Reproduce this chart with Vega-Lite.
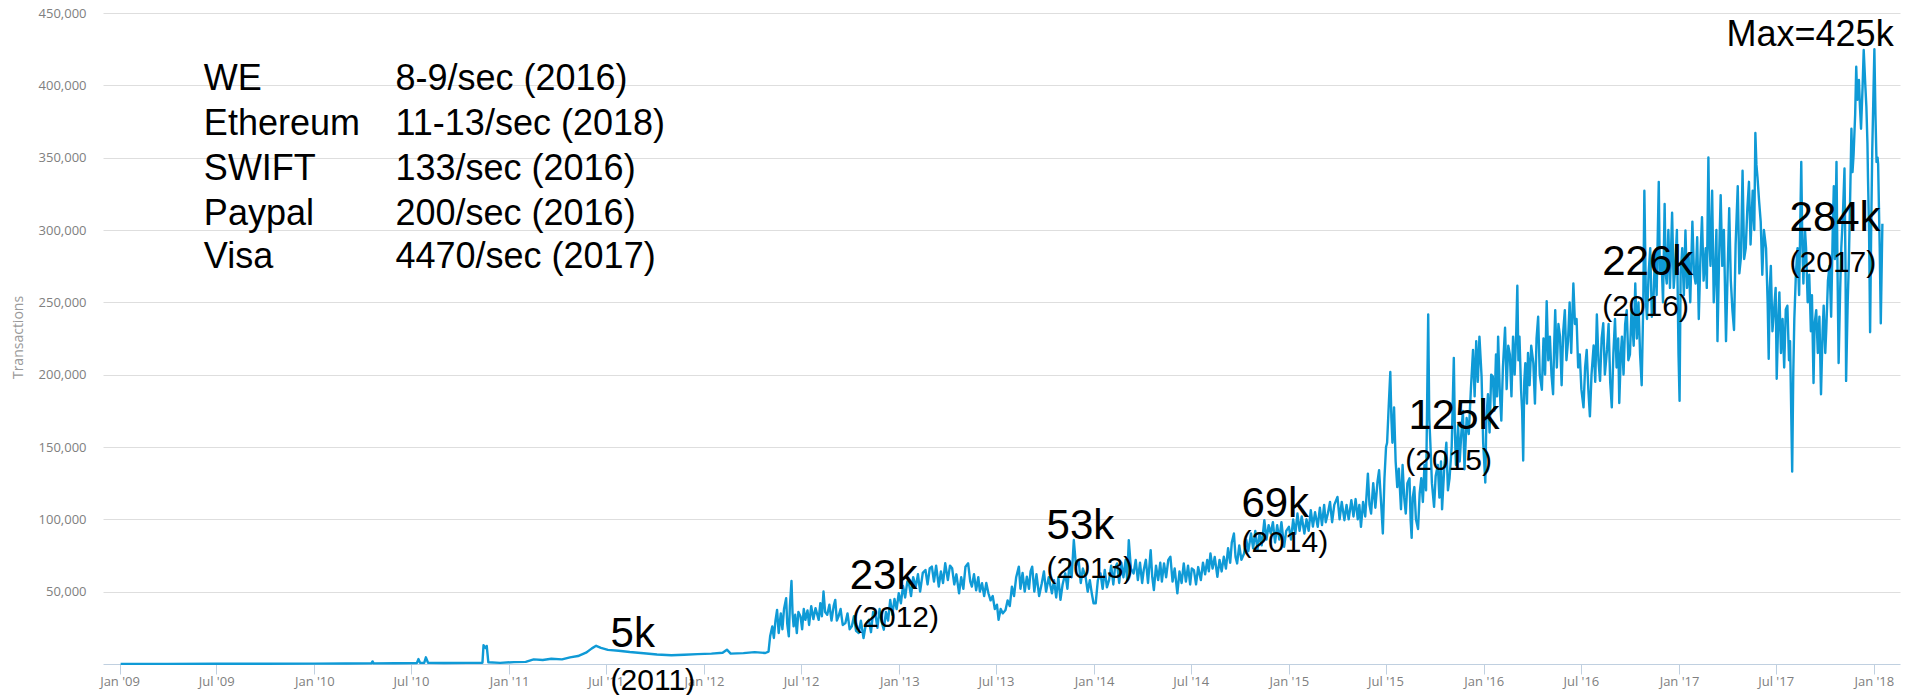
{
 "$schema": "https://vega.github.io/schema/vega-lite/v6.json",
 "width": 1797,
 "height": 651,
 "autosize": {"type": "none"},
 "padding": {"left": 103, "top": 13, "right": 7, "bottom": 31},
 "background": "white",
 "config": {"view": {"stroke": null}},
 "datasets": {
  "tx": [
   {"date":"2009-01-03","v":100},{"date":"2009-04-01","v":120},{"date":"2009-07-01","v":150},{"date":"2009-10-01","v":200},
   {"date":"2010-01-01","v":250},{"date":"2010-03-01","v":300},{"date":"2010-04-18","v":400},{"date":"2010-04-20","v":1800},
   {"date":"2010-04-22","v":400},{"date":"2010-06-01","v":500},{"date":"2010-07-12","v":600},{"date":"2010-07-15","v":3400},
   {"date":"2010-07-18","v":800},{"date":"2010-07-26","v":900},{"date":"2010-07-29","v":4600},{"date":"2010-08-02","v":900},
   {"date":"2010-09-01","v":700},{"date":"2010-10-15","v":800},{"date":"2010-11-12","v":900},{"date":"2010-11-14","v":13000},
   {"date":"2010-11-18","v":11000},{"date":"2010-11-20","v":12500},{"date":"2010-11-23","v":1200},{"date":"2010-12-15","v":800},
   {"date":"2011-01-10","v":1300},{"date":"2011-02-01","v":1500},{"date":"2011-02-16","v":3200},{"date":"2011-03-05","v":2800},
   {"date":"2011-03-21","v":3600},{"date":"2011-04-10","v":3200},{"date":"2011-04-25","v":4600},{"date":"2011-05-10","v":5500},
   {"date":"2011-05-25","v":7800},{"date":"2011-06-05","v":10800},{"date":"2011-06-13","v":12600},{"date":"2011-06-22","v":11200},
   {"date":"2011-07-05","v":9800},{"date":"2011-07-25","v":9200},{"date":"2011-08-15","v":8300},{"date":"2011-09-10","v":7400},
   {"date":"2011-10-05","v":6600},{"date":"2011-11-01","v":6000},{"date":"2011-11-25","v":6400},{"date":"2011-12-20","v":6800},
   {"date":"2012-01-15","v":7200},{"date":"2012-02-05","v":7800},{"date":"2012-02-13","v":9900},{"date":"2012-02-20","v":7200},
   {"date":"2012-03-15","v":7500},{"date":"2012-04-05","v":8200},{"date":"2012-04-25","v":7600},{"date":"2012-05-01","v":8500},
   {"date":"2012-05-04","v":19100},{"date":"2012-05-08","v":26000},{"date":"2012-05-11","v":18000},{"date":"2012-05-14","v":30000},
   {"date":"2012-05-17","v":37400},{"date":"2012-05-20","v":21400},{"date":"2012-05-24","v":35000},{"date":"2012-05-27","v":24000},
   {"date":"2012-05-30","v":38000},{"date":"2012-06-03","v":45500},{"date":"2012-06-05","v":28000},{"date":"2012-06-08","v":19100},
   {"date":"2012-06-10","v":40000},{"date":"2012-06-13","v":57400},{"date":"2012-06-15","v":35000},{"date":"2012-06-17","v":26000},
   {"date":"2012-06-20","v":34000},{"date":"2012-06-23","v":21400},{"date":"2012-06-26","v":36000},{"date":"2012-06-30","v":32800},
   {"date":"2012-07-03","v":24000},{"date":"2012-07-06","v":38000},{"date":"2012-07-09","v":30500},{"date":"2012-07-13","v":37000},
   {"date":"2012-07-16","v":27000},{"date":"2012-07-20","v":40000},{"date":"2012-07-24","v":31000},{"date":"2012-07-28","v":38600},
   {"date":"2012-08-03","v":30500},{"date":"2012-08-06","v":42000},{"date":"2012-08-09","v":33000},{"date":"2012-08-12","v":50100},
   {"date":"2012-08-15","v":36000},{"date":"2012-08-19","v":34000},{"date":"2012-08-23","v":41000},{"date":"2012-08-27","v":30000},
   {"date":"2012-08-31","v":40000},{"date":"2012-09-03","v":44300},{"date":"2012-09-06","v":30000},{"date":"2012-09-09","v":32800},
   {"date":"2012-09-13","v":38000},{"date":"2012-09-17","v":27000},{"date":"2012-09-22","v":28300},{"date":"2012-09-26","v":35000},
   {"date":"2012-09-30","v":24000},{"date":"2012-10-04","v":26000},{"date":"2012-10-08","v":33000},{"date":"2012-10-12","v":23000},
   {"date":"2012-10-17","v":21400},{"date":"2012-10-21","v":30000},{"date":"2012-10-26","v":17900},{"date":"2012-10-30","v":27000},
   {"date":"2012-11-05","v":30500},{"date":"2012-11-09","v":22000},{"date":"2012-11-13","v":36000},{"date":"2012-11-17","v":35100},
   {"date":"2012-11-21","v":25000},{"date":"2012-11-25","v":38000},{"date":"2012-11-29","v":29000},{"date":"2012-12-03","v":23700},
   {"date":"2012-12-07","v":36000},{"date":"2012-12-11","v":30000},{"date":"2012-12-15","v":44300},{"date":"2012-12-19","v":34000},
   {"date":"2012-12-23","v":45000},{"date":"2012-12-27","v":38000},{"date":"2012-12-31","v":48900},{"date":"2013-01-04","v":42000},
   {"date":"2013-01-08","v":54000},{"date":"2013-01-12","v":46000},{"date":"2013-01-16","v":57000},{"date":"2013-01-19","v":55800},
   {"date":"2013-01-23","v":47000},{"date":"2013-01-27","v":60000},{"date":"2013-02-01","v":53500},{"date":"2013-02-05","v":62000},
   {"date":"2013-02-09","v":50000},{"date":"2013-02-14","v":63000},{"date":"2013-02-19","v":65000},{"date":"2013-02-23","v":55000},
   {"date":"2013-02-27","v":66000},{"date":"2013-03-03","v":67300},{"date":"2013-03-07","v":57000},{"date":"2013-03-11","v":68000},
   {"date":"2013-03-16","v":53500},{"date":"2013-03-20","v":64000},{"date":"2013-03-24","v":56000},{"date":"2013-03-28","v":69600},
   {"date":"2013-04-02","v":58000},{"date":"2013-04-06","v":68000},{"date":"2013-04-10","v":66200},{"date":"2013-04-14","v":55000},
   {"date":"2013-04-18","v":62000},{"date":"2013-04-23","v":48900},{"date":"2013-04-27","v":60000},{"date":"2013-05-01","v":52000},
   {"date":"2013-05-05","v":67300},{"date":"2013-05-10","v":69600},{"date":"2013-05-14","v":57000},{"date":"2013-05-17","v":53500},
   {"date":"2013-05-21","v":62000},{"date":"2013-05-25","v":51000},{"date":"2013-05-29","v":60000},{"date":"2013-06-01","v":50000},
   {"date":"2013-06-05","v":55800},{"date":"2013-06-09","v":47000},{"date":"2013-06-13","v":56000},{"date":"2013-06-17","v":48900},
   {"date":"2013-06-21","v":44000},{"date":"2013-06-25","v":47000},{"date":"2013-06-29","v":38000},{"date":"2013-07-03","v":41000},
   {"date":"2013-07-06","v":30500},{"date":"2013-07-10","v":38000},{"date":"2013-07-14","v":35000},{"date":"2013-07-19","v":37400},
   {"date":"2013-07-23","v":44000},{"date":"2013-07-27","v":40000},{"date":"2013-07-31","v":53500},{"date":"2013-08-04","v":47000},
   {"date":"2013-08-08","v":60000},{"date":"2013-08-13","v":67300},{"date":"2013-08-16","v":52000},{"date":"2013-08-20","v":63000},
   {"date":"2013-08-24","v":50000},{"date":"2013-08-28","v":60400},{"date":"2013-09-01","v":52000},{"date":"2013-09-04","v":64000},
   {"date":"2013-09-07","v":67300},{"date":"2013-09-11","v":50000},{"date":"2013-09-15","v":62000},{"date":"2013-09-20","v":47000},
   {"date":"2013-09-25","v":55800},{"date":"2013-09-29","v":64000},{"date":"2013-10-03","v":50000},{"date":"2013-10-08","v":60000},
   {"date":"2013-10-14","v":48900},{"date":"2013-10-18","v":58000},{"date":"2013-10-22","v":46000},{"date":"2013-10-26","v":60000},
   {"date":"2013-10-30","v":44300},{"date":"2013-11-03","v":55000},{"date":"2013-11-08","v":62700},{"date":"2013-11-12","v":52000},
   {"date":"2013-11-16","v":70000},{"date":"2013-11-20","v":60000},{"date":"2013-11-24","v":85700},{"date":"2013-11-28","v":68000},
   {"date":"2013-12-03","v":71900},{"date":"2013-12-07","v":56000},{"date":"2013-12-11","v":66000},{"date":"2013-12-16","v":60400},
   {"date":"2013-12-20","v":50000},{"date":"2013-12-24","v":58000},{"date":"2013-12-28","v":48000},{"date":"2013-12-31","v":42000},
   {"date":"2014-01-04","v":41900},{"date":"2014-01-08","v":58000},{"date":"2014-01-13","v":62600},{"date":"2014-01-17","v":52000},
   {"date":"2014-01-21","v":65000},{"date":"2014-01-25","v":53000},{"date":"2014-01-29","v":58000},{"date":"2014-02-02","v":68000},
   {"date":"2014-02-06","v":55000},{"date":"2014-02-09","v":66000},{"date":"2014-02-13","v":69500},{"date":"2014-02-17","v":56000},
   {"date":"2014-02-21","v":70000},{"date":"2014-02-25","v":60000},{"date":"2014-03-01","v":72000},{"date":"2014-03-04","v":58000},
   {"date":"2014-03-07","v":85600},{"date":"2014-03-11","v":66000},{"date":"2014-03-16","v":62600},{"date":"2014-03-20","v":72000},
   {"date":"2014-03-24","v":58000},{"date":"2014-03-28","v":70000},{"date":"2014-04-01","v":56000},{"date":"2014-04-04","v":64900},
   {"date":"2014-04-08","v":72000},{"date":"2014-04-12","v":56000},{"date":"2014-04-17","v":78700},{"date":"2014-04-20","v":60000},
   {"date":"2014-04-23","v":51100},{"date":"2014-04-27","v":68000},{"date":"2014-05-01","v":58000},{"date":"2014-05-05","v":70000},
   {"date":"2014-05-08","v":57000},{"date":"2014-05-12","v":69500},{"date":"2014-05-16","v":60000},{"date":"2014-05-20","v":72000},
   {"date":"2014-05-24","v":74100},{"date":"2014-05-28","v":57000},{"date":"2014-06-01","v":66000},{"date":"2014-06-06","v":48800},
   {"date":"2014-06-10","v":64000},{"date":"2014-06-14","v":56000},{"date":"2014-06-18","v":69500},{"date":"2014-06-22","v":57000},
   {"date":"2014-06-26","v":68000},{"date":"2014-06-30","v":55000},{"date":"2014-07-03","v":66000},{"date":"2014-07-07","v":64900},
   {"date":"2014-07-11","v":55000},{"date":"2014-07-15","v":67000},{"date":"2014-07-20","v":58000},{"date":"2014-07-24","v":70000},
   {"date":"2014-07-28","v":62000},{"date":"2014-08-01","v":72000},{"date":"2014-08-04","v":64000},{"date":"2014-08-07","v":76400},
   {"date":"2014-08-11","v":66000},{"date":"2014-08-15","v":74000},{"date":"2014-08-20","v":60300},{"date":"2014-08-24","v":72000},
   {"date":"2014-08-28","v":64000},{"date":"2014-09-01","v":74100},{"date":"2014-09-05","v":66000},{"date":"2014-09-09","v":80000},
   {"date":"2014-09-13","v":70000},{"date":"2014-09-16","v":84000},{"date":"2014-09-20","v":90200},{"date":"2014-09-23","v":74000},
   {"date":"2014-09-26","v":69500},{"date":"2014-09-30","v":82000},{"date":"2014-10-04","v":72000},{"date":"2014-10-09","v":76400},
   {"date":"2014-10-13","v":86000},{"date":"2014-10-17","v":78000},{"date":"2014-10-22","v":90200},{"date":"2014-10-26","v":80000},
   {"date":"2014-10-30","v":92000},{"date":"2014-11-03","v":78700},{"date":"2014-11-07","v":90000},{"date":"2014-11-11","v":82000},
   {"date":"2014-11-16","v":99400},{"date":"2014-11-20","v":86000},{"date":"2014-11-24","v":96000},{"date":"2014-11-28","v":90200},
   {"date":"2014-12-02","v":98000},{"date":"2014-12-06","v":84000},{"date":"2014-12-10","v":96000},{"date":"2014-12-14","v":86000},
   {"date":"2014-12-18","v":98000},{"date":"2014-12-23","v":81000},{"date":"2014-12-27","v":92000},{"date":"2015-01-01","v":94800},
   {"date":"2015-01-05","v":86000},{"date":"2015-01-09","v":100000},{"date":"2015-01-13","v":90000},{"date":"2015-01-17","v":104000},
   {"date":"2015-01-21","v":92000},{"date":"2015-01-25","v":102000},{"date":"2015-01-30","v":90200},{"date":"2015-02-03","v":100000},
   {"date":"2015-02-07","v":92000},{"date":"2015-02-11","v":106300},{"date":"2015-02-15","v":95000},{"date":"2015-02-19","v":105000},
   {"date":"2015-02-24","v":94800},{"date":"2015-02-28","v":108000},{"date":"2015-03-04","v":96000},{"date":"2015-03-08","v":110000},
   {"date":"2015-03-11","v":98000},{"date":"2015-03-15","v":104000},{"date":"2015-03-19","v":112000},{"date":"2015-03-23","v":98000},
   {"date":"2015-03-27","v":110000},{"date":"2015-04-02","v":115500},{"date":"2015-04-06","v":100000},{"date":"2015-04-10","v":112000},
   {"date":"2015-04-15","v":99400},{"date":"2015-04-19","v":110000},{"date":"2015-04-23","v":100000},{"date":"2015-04-28","v":113200},
   {"date":"2015-05-02","v":102000},{"date":"2015-05-06","v":114000},{"date":"2015-05-10","v":100000},{"date":"2015-05-13","v":110000},
   {"date":"2015-05-16","v":94800},{"date":"2015-05-20","v":112000},{"date":"2015-05-24","v":102000},{"date":"2015-05-29","v":131600},
   {"date":"2015-06-01","v":110000},{"date":"2015-06-04","v":104000},{"date":"2015-06-08","v":125000},{"date":"2015-06-12","v":108000},
   {"date":"2015-06-16","v":126000},{"date":"2015-06-19","v":133900},{"date":"2015-06-23","v":110000},{"date":"2015-06-26","v":90200},
   {"date":"2015-06-29","v":128000},{"date":"2015-07-02","v":150000},{"date":"2015-07-04","v":152900},{"date":"2015-07-07","v":178000},
   {"date":"2015-07-10","v":201800},{"date":"2015-07-12","v":170000},{"date":"2015-07-14","v":152900},{"date":"2015-07-17","v":177400},
   {"date":"2015-07-20","v":140000},{"date":"2015-07-23","v":122300},{"date":"2015-07-26","v":135000},{"date":"2015-07-30","v":107000},
   {"date":"2015-08-02","v":137600},{"date":"2015-08-05","v":115000},{"date":"2015-08-08","v":104000},{"date":"2015-08-11","v":125000},
   {"date":"2015-08-15","v":128400},{"date":"2015-08-17","v":100000},{"date":"2015-08-19","v":87200},{"date":"2015-08-21","v":115000},
   {"date":"2015-08-24","v":122300},{"date":"2015-08-27","v":100000},{"date":"2015-08-31","v":93300},{"date":"2015-09-03","v":118000},
   {"date":"2015-09-06","v":128400},{"date":"2015-09-09","v":112000},{"date":"2015-09-12","v":137600},{"date":"2015-09-15","v":120000},
   {"date":"2015-09-19","v":241600},{"date":"2015-09-21","v":170000},{"date":"2015-09-23","v":152900},{"date":"2015-09-26","v":125000},
   {"date":"2015-09-30","v":108600},{"date":"2015-10-03","v":130000},{"date":"2015-10-07","v":137600},{"date":"2015-10-10","v":115000},
   {"date":"2015-10-13","v":140000},{"date":"2015-10-15","v":107000},{"date":"2015-10-19","v":135000},{"date":"2015-10-23","v":152900},
   {"date":"2015-10-26","v":120000},{"date":"2015-10-29","v":128400},{"date":"2015-11-02","v":150000},{"date":"2015-11-06","v":211600},
   {"date":"2015-11-08","v":160000},{"date":"2015-11-10","v":137600},{"date":"2015-11-14","v":165000},{"date":"2015-11-17","v":140000},
   {"date":"2015-11-20","v":159000},{"date":"2015-11-23","v":175000},{"date":"2015-11-26","v":134600},{"date":"2015-11-30","v":170000},
   {"date":"2015-12-04","v":159000},{"date":"2015-12-08","v":190000},{"date":"2015-12-12","v":217100},{"date":"2015-12-15","v":185000},
   {"date":"2015-12-18","v":223200},{"date":"2015-12-21","v":195000},{"date":"2015-12-24","v":226300},{"date":"2015-12-28","v":198800},
   {"date":"2015-12-31","v":152900},{"date":"2016-01-04","v":125400},{"date":"2016-01-06","v":170000},{"date":"2016-01-09","v":186500},
   {"date":"2016-01-12","v":160000},{"date":"2016-01-15","v":200000},{"date":"2016-01-18","v":198800},{"date":"2016-01-21","v":175000},
   {"date":"2016-01-24","v":214000},{"date":"2016-01-26","v":185000},{"date":"2016-01-28","v":226300},{"date":"2016-01-31","v":190000},
   {"date":"2016-02-03","v":168200},{"date":"2016-02-06","v":205000},{"date":"2016-02-10","v":232400},{"date":"2016-02-13","v":190000},
   {"date":"2016-02-16","v":220000},{"date":"2016-02-19","v":214000},{"date":"2016-02-22","v":185000},{"date":"2016-02-25","v":226300},
   {"date":"2016-02-28","v":200000},{"date":"2016-03-02","v":230000},{"date":"2016-03-04","v":261500},{"date":"2016-03-06","v":210000},
   {"date":"2016-03-08","v":226300},{"date":"2016-03-11","v":189600},{"date":"2016-03-13","v":175000},{"date":"2016-03-15","v":140700},
   {"date":"2016-03-17","v":195000},{"date":"2016-03-19","v":208000},{"date":"2016-03-22","v":180000},{"date":"2016-03-24","v":215000},
   {"date":"2016-03-27","v":192700},{"date":"2016-03-30","v":220000},{"date":"2016-04-03","v":208000},{"date":"2016-04-06","v":180000},
   {"date":"2016-04-09","v":225000},{"date":"2016-04-12","v":240000},{"date":"2016-04-15","v":200000},{"date":"2016-04-19","v":189600},
   {"date":"2016-04-22","v":225000},{"date":"2016-04-25","v":200000},{"date":"2016-04-28","v":250800},{"date":"2016-05-01","v":210000},
   {"date":"2016-05-04","v":226300},{"date":"2016-05-07","v":200000},{"date":"2016-05-10","v":186500},{"date":"2016-05-12","v":220000},
   {"date":"2016-05-14","v":244600},{"date":"2016-05-17","v":205000},{"date":"2016-05-20","v":235000},{"date":"2016-05-23","v":226300},
   {"date":"2016-05-26","v":192700},{"date":"2016-05-29","v":230000},{"date":"2016-06-01","v":244600},{"date":"2016-06-04","v":210000},
   {"date":"2016-06-07","v":223200},{"date":"2016-06-10","v":250000},{"date":"2016-06-13","v":215000},{"date":"2016-06-17","v":263000},
   {"date":"2016-06-20","v":235000},{"date":"2016-06-23","v":238500},{"date":"2016-06-26","v":205000},{"date":"2016-06-29","v":214000},
   {"date":"2016-07-02","v":190000},{"date":"2016-07-06","v":177400},{"date":"2016-07-09","v":205000},{"date":"2016-07-12","v":217100},
   {"date":"2016-07-15","v":190000},{"date":"2016-07-18","v":171200},{"date":"2016-07-21","v":200000},{"date":"2016-07-25","v":220200},
   {"date":"2016-07-28","v":195000},{"date":"2016-07-31","v":241600},{"date":"2016-08-03","v":210000},{"date":"2016-08-06","v":195700},
   {"date":"2016-08-09","v":225000},{"date":"2016-08-12","v":235500},{"date":"2016-08-15","v":200000},{"date":"2016-08-19","v":217100},
   {"date":"2016-08-22","v":235000},{"date":"2016-08-25","v":195000},{"date":"2016-08-28","v":177400},{"date":"2016-08-31","v":215000},
   {"date":"2016-09-03","v":238500},{"date":"2016-09-06","v":205000},{"date":"2016-09-09","v":225000},{"date":"2016-09-11","v":180400},
   {"date":"2016-09-14","v":215000},{"date":"2016-09-16","v":226300},{"date":"2016-09-19","v":200000},{"date":"2016-09-22","v":235000},
   {"date":"2016-09-25","v":244600},{"date":"2016-09-28","v":210000},{"date":"2016-10-01","v":214000},{"date":"2016-10-04","v":245000},
   {"date":"2016-10-08","v":220000},{"date":"2016-10-11","v":263000},{"date":"2016-10-14","v":225000},{"date":"2016-10-17","v":250000},
   {"date":"2016-10-20","v":214000},{"date":"2016-10-23","v":192700},{"date":"2016-10-26","v":250000},{"date":"2016-10-28","v":327200},
   {"date":"2016-10-31","v":250000},{"date":"2016-11-02","v":238500},{"date":"2016-11-05","v":270000},{"date":"2016-11-08","v":287500},
   {"date":"2016-11-11","v":240000},{"date":"2016-11-14","v":250800},{"date":"2016-11-17","v":285000},{"date":"2016-11-20","v":255000},
   {"date":"2016-11-24","v":333300},{"date":"2016-11-26","v":270000},{"date":"2016-11-29","v":281300},{"date":"2016-12-02","v":250000},
   {"date":"2016-12-05","v":318000},{"date":"2016-12-07","v":270000},{"date":"2016-12-09","v":263000},{"date":"2016-12-12","v":300000},
   {"date":"2016-12-15","v":260000},{"date":"2016-12-19","v":311900},{"date":"2016-12-22","v":260000},{"date":"2016-12-25","v":275200},
   {"date":"2016-12-28","v":300000},{"date":"2016-12-31","v":214000},{"date":"2017-01-02","v":182000},{"date":"2017-01-04","v":270000},
   {"date":"2017-01-07","v":287500},{"date":"2017-01-10","v":255000},{"date":"2017-01-13","v":299700},{"date":"2017-01-16","v":260000},
   {"date":"2017-01-19","v":281300},{"date":"2017-01-22","v":250000},{"date":"2017-01-26","v":305800},{"date":"2017-01-29","v":270000},
   {"date":"2017-02-01","v":263000},{"date":"2017-02-04","v":295000},{"date":"2017-02-07","v":238500},{"date":"2017-02-10","v":280000},
   {"date":"2017-02-13","v":308900},{"date":"2017-02-16","v":265000},{"date":"2017-02-20","v":287500},{"date":"2017-02-22","v":260000},
   {"date":"2017-02-25","v":350100},{"date":"2017-02-27","v":290000},{"date":"2017-03-01","v":275200},{"date":"2017-03-04","v":327200},
   {"date":"2017-03-07","v":250000},{"date":"2017-03-10","v":275200},{"date":"2017-03-12","v":300000},{"date":"2017-03-14","v":223200},
   {"date":"2017-03-17","v":280000},{"date":"2017-03-20","v":324100},{"date":"2017-03-23","v":275200},{"date":"2017-03-26","v":300000},
   {"date":"2017-03-30","v":223200},{"date":"2017-04-02","v":270000},{"date":"2017-04-05","v":315000},{"date":"2017-04-08","v":265000},
   {"date":"2017-04-11","v":244600},{"date":"2017-04-14","v":230900},{"date":"2017-04-17","v":290000},{"date":"2017-04-21","v":330300},
   {"date":"2017-04-24","v":270000},{"date":"2017-04-27","v":281300},{"date":"2017-04-30","v":341000},{"date":"2017-05-03","v":280000},
   {"date":"2017-05-06","v":287500},{"date":"2017-05-09","v":315000},{"date":"2017-05-12","v":333300},{"date":"2017-05-15","v":290000},
   {"date":"2017-05-19","v":327200},{"date":"2017-05-22","v":300000},{"date":"2017-05-24","v":367000},{"date":"2017-05-26","v":345000},
   {"date":"2017-05-28","v":336400},{"date":"2017-05-31","v":320000},{"date":"2017-06-03","v":305800},{"date":"2017-06-06","v":269100},
   {"date":"2017-06-09","v":300000},{"date":"2017-06-13","v":287500},{"date":"2017-06-16","v":250000},{"date":"2017-06-18","v":211000},
   {"date":"2017-06-20","v":260000},{"date":"2017-06-22","v":275200},{"date":"2017-06-25","v":230000},{"date":"2017-06-28","v":244600},
   {"date":"2017-07-01","v":260000},{"date":"2017-07-03","v":197200},{"date":"2017-07-06","v":240000},{"date":"2017-07-08","v":256900},
   {"date":"2017-07-11","v":215000},{"date":"2017-07-14","v":238500},{"date":"2017-07-17","v":204900},{"date":"2017-07-20","v":245000},
   {"date":"2017-07-23","v":247700},{"date":"2017-07-26","v":210000},{"date":"2017-07-28","v":223200},{"date":"2017-08-01","v":133000},
   {"date":"2017-08-03","v":200000},{"date":"2017-08-05","v":238500},{"date":"2017-08-08","v":270000},{"date":"2017-08-11","v":287500},
   {"date":"2017-08-14","v":255000},{"date":"2017-08-18","v":347100},{"date":"2017-08-20","v":290000},{"date":"2017-08-22","v":263000},
   {"date":"2017-08-25","v":300000},{"date":"2017-08-27","v":287500},{"date":"2017-08-30","v":250000},{"date":"2017-09-02","v":269100},
   {"date":"2017-09-05","v":230000},{"date":"2017-09-07","v":255000},{"date":"2017-09-10","v":194200},{"date":"2017-09-12","v":235000},
   {"date":"2017-09-15","v":244600},{"date":"2017-09-18","v":215000},{"date":"2017-09-21","v":240000},{"date":"2017-09-24","v":186500},
   {"date":"2017-09-27","v":230000},{"date":"2017-09-29","v":247700},{"date":"2017-10-02","v":215000},{"date":"2017-10-04","v":232400},
   {"date":"2017-10-07","v":265000},{"date":"2017-10-10","v":275200},{"date":"2017-10-13","v":240000},{"date":"2017-10-16","v":300000},
   {"date":"2017-10-18","v":330300},{"date":"2017-10-20","v":280000},{"date":"2017-10-23","v":347100},{"date":"2017-10-25","v":270000},
   {"date":"2017-10-27","v":208000},{"date":"2017-10-30","v":260000},{"date":"2017-11-01","v":287500},{"date":"2017-11-04","v":310000},
   {"date":"2017-11-07","v":342500},{"date":"2017-11-09","v":270000},{"date":"2017-11-10","v":195700},{"date":"2017-11-13","v":250000},
   {"date":"2017-11-15","v":275200},{"date":"2017-11-18","v":330000},{"date":"2017-11-20","v":370000},{"date":"2017-11-22","v":340000},
   {"date":"2017-11-24","v":351700},{"date":"2017-11-27","v":380000},{"date":"2017-11-29","v":412800},{"date":"2017-12-01","v":390000},
   {"date":"2017-12-04","v":403700},{"date":"2017-12-06","v":385000},{"date":"2017-12-08","v":370000},{"date":"2017-12-11","v":400000},
   {"date":"2017-12-13","v":424400},{"date":"2017-12-16","v":400000},{"date":"2017-12-18","v":385300},{"date":"2017-12-20","v":360000},
   {"date":"2017-12-21","v":336400},{"date":"2017-12-23","v":300000},{"date":"2017-12-25","v":229400},{"date":"2017-12-27","v":300000},
   {"date":"2017-12-29","v":354700},{"date":"2017-12-31","v":390000},{"date":"2018-01-02","v":425000},{"date":"2018-01-04","v":380000},
   {"date":"2018-01-06","v":347100},{"date":"2018-01-08","v":350000},{"date":"2018-01-09","v":345600},{"date":"2018-01-12","v":287500},
   {"date":"2018-01-14","v":235500},{"date":"2018-01-17","v":304300}
  ],
  "notes": [
   {"kind":"max","txt":"Max=425k","date":"2017-03-31","v":427200},
   {"kind":"num","txt":"284k","date":"2017-07-27","v":299300},
   {"kind":"year","txt":"(2017)","date":"2017-07-27","v":271000},
   {"kind":"num","txt":"226k","date":"2016-08-10","v":268900},
   {"kind":"year","txt":"(2016)","date":"2016-08-10","v":240600},
   {"kind":"num","txt":"125k","date":"2015-08-13","v":162400},
   {"kind":"year","txt":"(2015)","date":"2015-08-07","v":134100},
   {"kind":"num","txt":"69k","date":"2014-10-04","v":101600},
   {"kind":"year","txt":"(2014)","date":"2014-10-04","v":77400},
   {"kind":"num","txt":"53k","date":"2013-10-04","v":86400},
   {"kind":"year","txt":"(2013)","date":"2013-10-04","v":59400},
   {"kind":"num","txt":"23k","date":"2012-09-30","v":51800},
   {"kind":"year","txt":"(2012)","date":"2012-10-05","v":25600},
   {"kind":"num","txt":"5k","date":"2011-07-10","v":11750},
   {"kind":"year","txt":"(2011)","date":"2011-07-10","v":-18000}
  ],
  "table": [
   {"txt":"WE","date":"2009-06-08","v":396800},
   {"txt":"8-9/sec (2016)","date":"2010-06-02","v":396800},
   {"txt":"Ethereum","date":"2009-06-08","v":365700},
   {"txt":"11-13/sec (2018)","date":"2010-06-02","v":365700},
   {"txt":"SWIFT","date":"2009-06-08","v":334600},
   {"txt":"133/sec (2016)","date":"2010-06-02","v":334600},
   {"txt":"Paypal","date":"2009-06-08","v":303500},
   {"txt":"200/sec (2016)","date":"2010-06-02","v":303500},
   {"txt":"Visa","date":"2009-06-08","v":273700},
   {"txt":"4470/sec (2017)","date":"2010-06-02","v":273700}
  ]
 },
 "encoding": {
  "x": {
   "field": "date", "type": "temporal",
   "scale": {"type": "utc", "domain": [{"year": 2008, "month": 12, "date": 1, "utc": true}, {"year": 2018, "month": 2, "date": 19, "utc": true}]},
   "axis": {"format": "%b '%y", "tickCount": {"interval": "month", "step": 6}, "grid": false,
            "domainColor": "#C0D0E0", "tickColor": "#C0D0E0", "tickSize": 10,
            "labelFont": "Open Sans", "labelFontSize": 13, "labelColor": "#808080", "labelPadding": 1,
            "labelFlush": false, "labelOverlap": false, "title": null}
  },
  "y": {
   "field": "v", "type": "quantitative",
   "scale": {"domain": [0, 450000], "nice": false, "zero": false},
   "axis": {"values": [50000, 100000, 150000, 200000, 250000, 300000, 350000, 400000, 450000],
            "format": ",d", "grid": true, "gridColor": "#DEDEDE", "gridWidth": 1,
            "domain": false, "ticks": false, "tickSize": 0, "labelPadding": 17,
            "labelFont": "Open Sans", "labelFontSize": 13, "labelColor": "#808080",
            "title": "Transactions", "titleFont": "Open Sans", "titleFontSize": 14, "titleFontWeight": "normal",
            "titleColor": "#999999", "titleX": -85, "titleY": 324, "titleAngle": -90, "titleAlign": "center", "titleBaseline": "middle"}
  }
 },
 "layer": [
  {"data": {"name": "tx"}, "mark": {"type": "line", "color": "#0F9AD6", "strokeWidth": 2.4, "strokeJoin": "round"}},
  {"data": {"name": "table"}, "mark": {"type": "text", "font": "Liberation Sans", "fontSize": 36, "align": "left", "baseline": "alphabetic", "color": "#000000"}, "encoding": {"text": {"field": "txt"}}},
  {"data": {"name": "notes"}, "transform": [{"filter": "datum.kind === 'max'"}], "mark": {"type": "text", "font": "Liberation Sans", "fontSize": 36, "align": "left", "baseline": "alphabetic", "color": "#000000"}, "encoding": {"text": {"field": "txt"}}},
  {"data": {"name": "notes"}, "transform": [{"filter": "datum.kind === 'num'"}], "mark": {"type": "text", "font": "Liberation Sans", "fontSize": 42, "align": "left", "baseline": "alphabetic", "color": "#000000"}, "encoding": {"text": {"field": "txt"}}},
  {"data": {"name": "notes"}, "transform": [{"filter": "datum.kind === 'year'"}], "mark": {"type": "text", "font": "Liberation Sans", "fontSize": 30, "align": "left", "baseline": "alphabetic", "color": "#000000"}, "encoding": {"text": {"field": "txt"}}}
 ]
}
